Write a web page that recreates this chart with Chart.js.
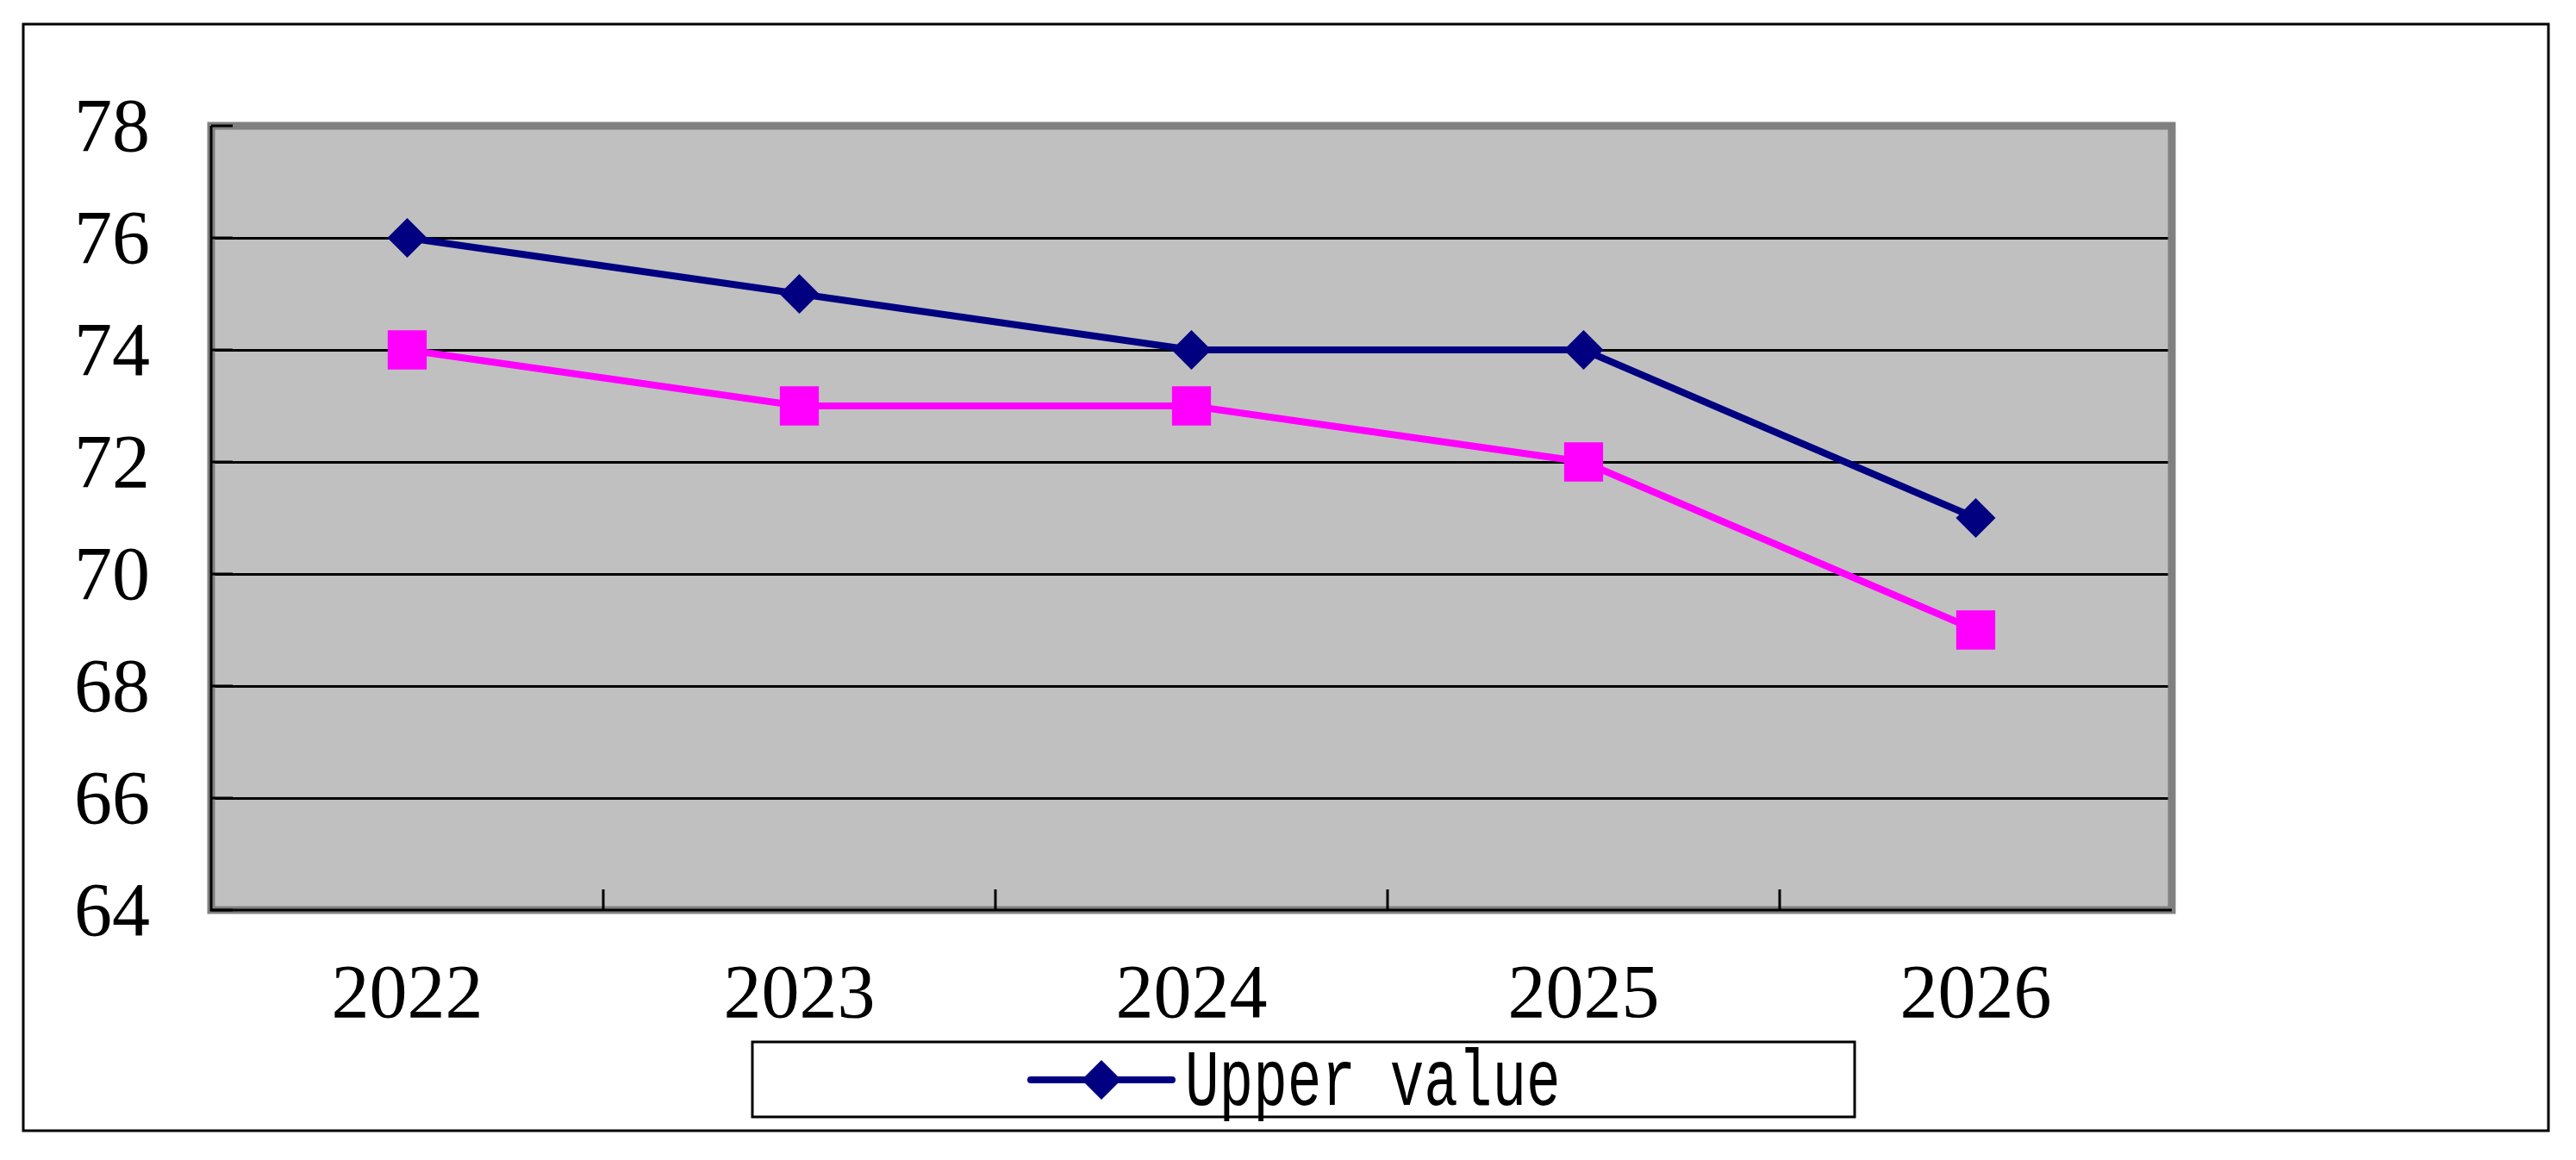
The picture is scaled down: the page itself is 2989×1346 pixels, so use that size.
<!DOCTYPE html>
<html>
<head>
<meta charset="utf-8">
<script src="https://cdn.jsdelivr.net/npm/chart.js@4/dist/chart.umd.min.js"></script>
<style>
  html, body { margin: 0; padding: 0; background: #fff; overflow: hidden; }
  #wrap { width: 2989px; height: 1346px; }
</style>
</head>
<body>
<div id="wrap"><canvas id="valueChart" width="2989" height="1346"></canvas></div>
<script>
const years = ["2022", "2023", "2024", "2025", "2026"];
const upperValues = [76, 75, 74, 74, 71];
const lowerValues = [74, 73, 73, 72, 69];
const yMin = 64;
const yMax = 78;
const yStep = 2;

const tickFont = { family: "'Liberation Serif', serif", size: 88 };

// plot background, outer frame, grey plot border, inner ticks, legend box
const excelLook = {
    id: "excelLook",
    beforeDraw(chart) {
        const { ctx, chartArea: a } = chart;
        ctx.save();
        ctx.fillStyle = "#fff";
        ctx.fillRect(0, 0, chart.width, chart.height);
        ctx.fillStyle = "#c0c0c0";
        ctx.fillRect(a.left, a.top, a.right - a.left, a.bottom - a.top);
        ctx.strokeStyle = "#000";
        ctx.lineWidth = 3;
        ctx.strokeRect(27, 28, 2930, 1284);
        ctx.restore();
    },
    beforeDatasetsDraw(chart) {
        const { ctx, chartArea: a } = chart;
        const xs = chart.scales.x;
        const ys = chart.scales.y;
        ctx.save();
        // grey plot area border
        ctx.strokeStyle = "#808080";
        ctx.lineWidth = 9;
        ctx.strokeRect(a.left, a.top, a.right - a.left, a.bottom - a.top);
        // black axis lines
        ctx.strokeStyle = "#000";
        ctx.lineWidth = 3;
        ctx.beginPath();
        ctx.moveTo(a.left, a.top);
        ctx.lineTo(a.left, a.bottom);
        ctx.lineTo(a.right, a.bottom);
        ctx.stroke();
        // inside tick marks
        ctx.beginPath();
        for (let i = 1; i < years.length; i++) {
            const x = xs.getPixelForValue(i - 0.5);
            ctx.moveTo(x, a.bottom);
            ctx.lineTo(x, a.bottom - 24);
        }
        ys.ticks.forEach(t => {
            const y = ys.getPixelForValue(t.value);
            ctx.moveTo(a.left, y);
            ctx.lineTo(a.left + 25, y);
        });
        ctx.stroke();
        ctx.restore();
    },
    afterDraw(chart) {
        const { ctx } = chart;
        const ds = chart.data.datasets[0];
        ctx.save();
        ctx.strokeStyle = "#000";
        ctx.lineWidth = 3;
        ctx.strokeRect(873, 1209, 1279, 87);
        // sample line + marker
        ctx.strokeStyle = ds.borderColor;
        ctx.lineWidth = 8;
        ctx.lineCap = "round";
        ctx.beginPath();
        ctx.moveTo(1196, 1253);
        ctx.lineTo(1360, 1253);
        ctx.stroke();
        ctx.fillStyle = ds.backgroundColor;
        Chart.helpers.drawPoint(ctx, { pointStyle: ds.pointStyle, radius: 23, borderWidth: 0 }, 1278, 1253);
        // label, stretched tall like the original font
        ctx.fillStyle = "#000";
        ctx.font = "66px 'Liberation Mono', monospace";
        ctx.textBaseline = "alphabetic";
        ctx.translate(1375, 1282);
        ctx.scale(1, 1.4);
        ctx.fillText(ds.label, 0, 0);
        ctx.restore();
    }
};

const chart = new Chart(document.getElementById("valueChart"), {
    type: "line",
    data: {
        labels: years,
        datasets: [
            {
                label: "Upper value",
                data: upperValues,
                borderColor: "#000080",
                backgroundColor: "#000080",
                borderWidth: 8,
                pointStyle: "rectRot",
                pointRadius: 23,
                pointHoverRadius: 23,
                pointBorderWidth: 0,
                tension: 0
            },
            {
                label: "Lower value",
                data: lowerValues,
                borderColor: "#ff00ff",
                backgroundColor: "#ff00ff",
                borderWidth: 8,
                pointStyle: "rect",
                pointRadius: 32,
                pointHoverRadius: 32,
                pointBorderWidth: 0,
                tension: 0
            }
        ]
    },
    options: {
        responsive: false,
        animation: false,
        devicePixelRatio: 1,
        layout: { padding: { top: 146, right: 469, left: 0, bottom: 0 } },
        plugins: {
            legend: { display: false },
            tooltip: { enabled: false }
        },
        scales: {
            x: {
                type: "category",
                offset: true,
                grid: { display: false },
                border: { display: false },
                ticks: { font: tickFont, color: "#000", padding: 40, maxRotation: 0 },
                afterFit(s) { s.height = 290; }
            },
            y: {
                min: yMin,
                max: yMax,
                grid: { color: "#000", lineWidth: 3, drawTicks: false },
                border: { display: false },
                ticks: { stepSize: yStep, font: tickFont, color: "#000", padding: 71, labelOffset: 6 },
                afterFit(s) { s.width = 245; }
            }
        }
    },
    plugins: [excelLook]
});
</script>
</body>
</html>
